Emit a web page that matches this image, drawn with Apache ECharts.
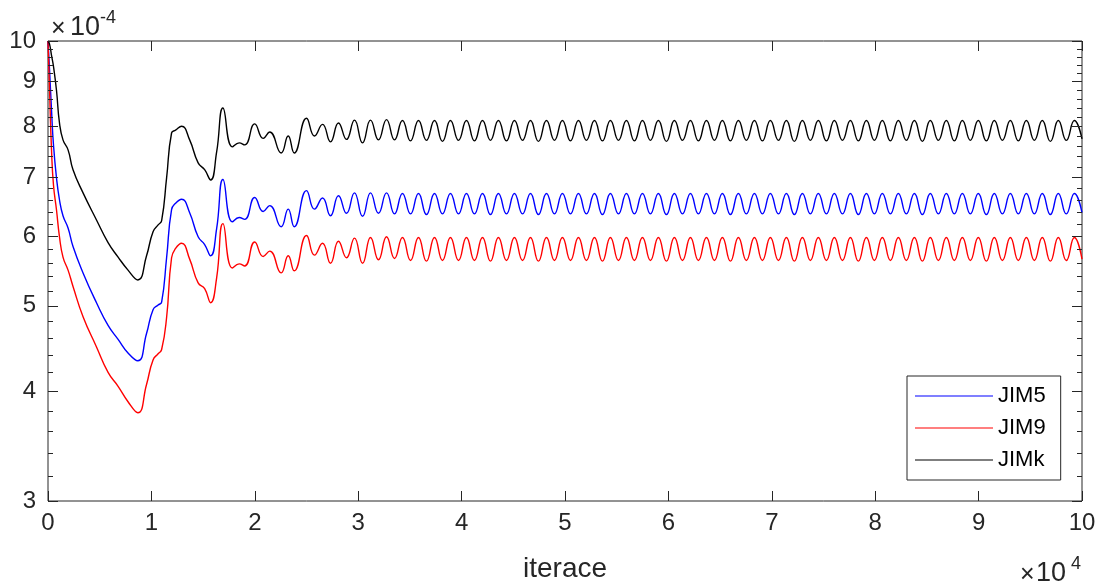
<!DOCTYPE html>
<html>
<head>
<meta charset="utf-8">
<script src="https://cdn.jsdelivr.net/npm/echarts@6/dist/echarts.min.js"></script>
<style>
  html, body { margin: 0; padding: 0; background: #ffffff; }
  #chart { width: 1100px; height: 588px; }
</style>
</head>
<body>
<div id="chart"></div>
<script>
// Iteration numbers of the sampled points (shared by all three curves)
const iterations = [
  0, 150, 340, 530, 820, 1110, 1450, 1940, 2420, 3390,
  4690, 5810, 6780, 7740, 8690, 9530, 10160, 10650, 10990, 11470,
  11950, 12340, 12920, 13700, 14520, 15150, 15730, 16310, 16920, 17830,
  18490, 19020, 19990, 20810, 21440, 22550, 23230, 23810, 25000,
  25770, 26550, 27320, 28090, 28870, 29640, 30420, 31190, 31960, 32740,
  33510, 34280, 35060, 35830, 36600, 37380, 38150, 38920, 39700, 40470,
  41240, 42020, 42790, 43560, 44340, 45110, 45890, 46660, 47430, 48210,
  48980, 49750, 50530, 51300, 52070, 52850, 53620, 54390, 55170, 55940,
  56710, 57490, 58260, 59030, 59810, 60580, 61360, 62130, 62900, 63680,
  64450, 65220, 66000, 66770, 67540, 68320, 69090, 69860, 70640, 71410,
  72180, 72960, 73730, 74500, 75280, 76050, 76830, 77600, 78370, 79150,
  79920, 80690, 81470, 82240, 83010, 83790, 84560, 85330, 86110, 86880,
  87650, 88430, 89200, 89970, 90750, 91520, 92300, 93070, 93840, 94620,
  95390, 96160, 96940, 97710, 98480, 99260, 100000
];

// Values in units of 1e-4
const jim5 = [
  10.0, 9.27, 8.35, 7.62, 6.99, 6.60, 6.33, 6.13, 5.84, 5.45,
  5.04, 4.75, 4.58, 4.42, 4.33, 4.65, 4.95, 5.01, 5.05, 5.67,
  6.43, 6.54, 6.61, 6.38, 5.99, 5.87, 5.70, 6.12, 6.96, 6.23,
  6.30, 6.27, 6.64, 6.40, 6.50, 6.15, 6.44, 6.15, 6.76,
  6.44, 6.63, 6.33, 6.67, 6.37, 6.72, 6.32, 6.72, 6.37, 6.72,
  6.36, 6.71, 6.36, 6.71, 6.35, 6.71, 6.36, 6.71, 6.36, 6.71,
  6.36, 6.71, 6.35, 6.71, 6.36, 6.71, 6.36, 6.71, 6.35, 6.71,
  6.36, 6.71, 6.36, 6.71, 6.36, 6.71, 6.35, 6.71, 6.36, 6.71,
  6.36, 6.71, 6.36, 6.71, 6.35, 6.71, 6.36, 6.71, 6.36, 6.71,
  6.36, 6.71, 6.35, 6.71, 6.36, 6.71, 6.36, 6.71, 6.36, 6.71,
  6.35, 6.71, 6.36, 6.71, 6.36, 6.71, 6.36, 6.71, 6.35, 6.71,
  6.36, 6.71, 6.36, 6.71, 6.36, 6.71, 6.35, 6.71, 6.36, 6.71,
  6.36, 6.71, 6.36, 6.71, 6.35, 6.71, 6.36, 6.71, 6.36, 6.71,
  6.36, 6.71, 6.35, 6.71, 6.36, 6.71, 6.38
];

const jim9 = [
  10.0, 8.79, 7.52, 6.86, 6.43, 5.99, 5.68, 5.49, 5.26, 4.86,
  4.49, 4.20, 4.05, 3.89, 3.78, 4.07, 4.34, 4.41, 4.46, 4.85,
  5.67, 5.81, 5.89, 5.65, 5.31, 5.23, 5.04, 5.38, 6.20, 5.52,
  5.58, 5.55, 5.91, 5.69, 5.77, 5.45, 5.70, 5.48, 6.01,
  5.71, 5.89, 5.59, 5.92, 5.67, 5.97, 5.59, 5.98, 5.64, 5.99,
  5.66, 5.98, 5.63, 5.98, 5.62, 5.98, 5.63, 5.98, 5.63, 5.98,
  5.63, 5.98, 5.62, 5.98, 5.63, 5.98, 5.63, 5.98, 5.62, 5.98,
  5.63, 5.98, 5.63, 5.98, 5.63, 5.98, 5.62, 5.98, 5.63, 5.98,
  5.63, 5.98, 5.63, 5.98, 5.62, 5.98, 5.63, 5.98, 5.63, 5.98,
  5.63, 5.98, 5.62, 5.98, 5.63, 5.98, 5.63, 5.98, 5.63, 5.98,
  5.62, 5.98, 5.63, 5.98, 5.63, 5.98, 5.63, 5.98, 5.62, 5.98,
  5.63, 5.98, 5.63, 5.98, 5.63, 5.98, 5.62, 5.98, 5.63, 5.98,
  5.63, 5.98, 5.63, 5.98, 5.62, 5.98, 5.63, 5.98, 5.63, 5.98,
  5.63, 5.98, 5.62, 5.98, 5.63, 5.98, 5.65
];

const jimk = [
  10.0, 9.92, 9.63, 9.36, 8.79, 8.07, 7.72, 7.52, 7.14, 6.72,
  6.26, 5.90, 5.68, 5.49, 5.35, 5.70, 6.07, 6.18, 6.25, 6.99,
  7.86, 7.92, 8.00, 7.72, 7.27, 7.14, 6.95, 7.48, 8.39, 7.58,
  7.66, 7.62, 8.05, 7.75, 7.88, 7.46, 7.80, 7.46, 8.17,
  7.80, 8.04, 7.68, 8.07, 7.73, 8.13, 7.66, 8.13, 7.72, 8.14,
  7.72, 8.12, 7.70, 8.12, 7.71, 8.12, 7.69, 8.12, 7.71, 8.12,
  7.70, 8.12, 7.71, 8.12, 7.70, 8.12, 7.71, 8.12, 7.69, 8.12,
  7.71, 8.12, 7.70, 8.12, 7.71, 8.12, 7.70, 8.12, 7.71, 8.12,
  7.70, 8.12, 7.71, 8.12, 7.69, 8.12, 7.71, 8.12, 7.70, 8.12,
  7.71, 8.12, 7.70, 8.12, 7.71, 8.12, 7.70, 8.12, 7.71, 8.12,
  7.69, 8.12, 7.71, 8.12, 7.70, 8.12, 7.71, 8.12, 7.70, 8.12,
  7.71, 8.12, 7.70, 8.12, 7.71, 8.12, 7.69, 8.12, 7.71, 8.12,
  7.70, 8.12, 7.71, 8.12, 7.70, 8.12, 7.71, 8.12, 7.70, 8.12,
  7.71, 8.12, 7.69, 8.12, 7.71, 8.12, 7.74
];

const seriesNames = ['JIM5', 'JIM9', 'JIMk'];
const seriesColors = ['#0000ff', '#ff0000', '#000000'];

// Axis ticks
const xTickLabels = ['0', '1', '2', '3', '4', '5', '6', '7', '8', '9', '10'];
const yMajorTicks = [3, 4, 5, 6, 7, 8, 9, 10];
const yMinorTicks = [
  3.2, 3.4, 3.6, 3.8, 4.2, 4.4, 4.6, 4.8, 5.2, 5.4, 5.6, 5.8,
  6.2, 6.4, 6.6, 6.8, 7.2, 7.4, 7.6, 7.8, 8.2, 8.4, 8.6, 8.8,
  9.2, 9.4, 9.6, 9.8
];

const FONT = '"Liberation Sans", Arial, Helvetica, sans-serif';
const AXIS_COLOR = '#262626';

function pairs(values) {
  return iterations.map((it, i) => [it, values[i]]);
}

// Tick marks on the left and right edges of the log axis, drawn through the axis scale
function yTickRenderer(len, withLabel) {
  return function (params, api) {
    const v = api.value(1);
    const p = api.coord([0, v]);
    const cs = params.coordSys;
    const y = Math.round(p[1]) + 0.5;
    const children = [
      { type: 'line', shape: { x1: cs.x, y1: y, x2: cs.x + len, y2: y },
        style: { stroke: AXIS_COLOR, lineWidth: 1 } },
      { type: 'line', shape: { x1: cs.x + cs.width - len, y1: y, x2: cs.x + cs.width, y2: y },
        style: { stroke: AXIS_COLOR, lineWidth: 1 } }
    ];
    if (withLabel) {
      children.push({
        type: 'text',
        style: {
          text: String(v), x: cs.x - 12, y: p[1],
          align: 'right', verticalAlign: 'middle',
          textAlign: 'right', textVerticalAlign: 'middle',
          fontSize: 24, fontFamily: FONT, fill: AXIS_COLOR
        }
      });
    }
    return { type: 'group', children: children };
  };
}

const chart = echarts.init(document.getElementById('chart'), null, { renderer: 'canvas' });

const lineSeries = [jim5, jim9, jimk].map((vals, i) => ({
  name: seriesNames[i],
  type: 'line',
  data: pairs(vals),
  smooth: 0.5,
  symbol: 'none',
  showSymbol: false,
  clip: true,
  lineStyle: { color: seriesColors[i], width: 1.4 },
  itemStyle: { color: seriesColors[i] },
  emphasis: { disabled: true },
  z: 3 + i
}));

chart.setOption({
  animation: false,
  backgroundColor: '#ffffff',
  grid: {
    left: 48, top: 41, right: 18, bottom: 86,
    show: true, borderColor: AXIS_COLOR, borderWidth: 1, backgroundColor: '#ffffff'
  },
  xAxis: [
    {
      type: 'value', position: 'bottom', min: 0, max: 100000, interval: 10000,
      name: 'iterace', nameLocation: 'middle', nameGap: 54,
      nameTextStyle: { fontSize: 28, fontFamily: FONT, color: AXIS_COLOR },
      axisLine: { show: false },
      axisTick: { show: true, inside: true, length: 10, lineStyle: { color: AXIS_COLOR, width: 1 } },
      axisLabel: {
        show: true, margin: 10, fontSize: 24, fontFamily: FONT, color: AXIS_COLOR,
        formatter: (v) => xTickLabels[Math.round(v / 10000)]
      },
      splitLine: { show: false }
    },
    {
      type: 'value', position: 'top', min: 0, max: 100000, interval: 10000,
      axisLine: { show: false },
      axisTick: { show: true, inside: true, length: 10, lineStyle: { color: AXIS_COLOR, width: 1 } },
      axisLabel: { show: false },
      splitLine: { show: false }
    }
  ],
  yAxis: {
    type: 'log', logBase: 10, min: 3, max: 10,
    axisLine: { show: false },
    axisTick: { show: false },
    axisLabel: { show: false },
    splitLine: { show: false }
  },
  legend: {
    data: seriesNames,
    orient: 'vertical',
    left: 907, top: 376,
    icon: 'rect', itemWidth: 78, itemHeight: 1, itemGap: 10,
    padding: [9, 15, 9, 8],
    borderColor: AXIS_COLOR, borderWidth: 1, backgroundColor: '#ffffff',
    selectedMode: false,
    textStyle: { fontSize: 22, fontFamily: FONT, color: '#000000' }
  },
  graphic: [
    { type: 'text', left: 51, top: 17, silent: true,
      style: { text: '×', fontSize: 25, fontFamily: FONT, fill: AXIS_COLOR } },
    { type: 'text', left: 70, top: 14, silent: true,
      style: { text: '10', fontSize: 27, fontFamily: FONT, fill: AXIS_COLOR } },
    { type: 'text', left: 100, top: 9, silent: true,
      style: { text: '-4', fontSize: 18, fontFamily: FONT, fill: AXIS_COLOR } },
    { type: 'text', left: 1020, top: 563, silent: true,
      style: { text: '×', fontSize: 25, fontFamily: FONT, fill: AXIS_COLOR } },
    { type: 'text', left: 1036, top: 560, silent: true,
      style: { text: '10', fontSize: 27, fontFamily: FONT, fill: AXIS_COLOR } },
    { type: 'text', left: 1071, top: 555, silent: true,
      style: { text: '4', fontSize: 18, fontFamily: FONT, fill: AXIS_COLOR } }
  ],
  series: lineSeries.concat([
    {
      type: 'custom', name: 'yMajor', silent: true, clip: false, z: 10,
      data: yMajorTicks.map(v => [0, v]),
      renderItem: yTickRenderer(10, true)
    },
    {
      type: 'custom', name: 'yMinor', silent: true, clip: false, z: 10,
      data: yMinorTicks.map(v => [0, v]),
      renderItem: yTickRenderer(5, false)
    }
  ])
});
</script>
</body>
</html>
